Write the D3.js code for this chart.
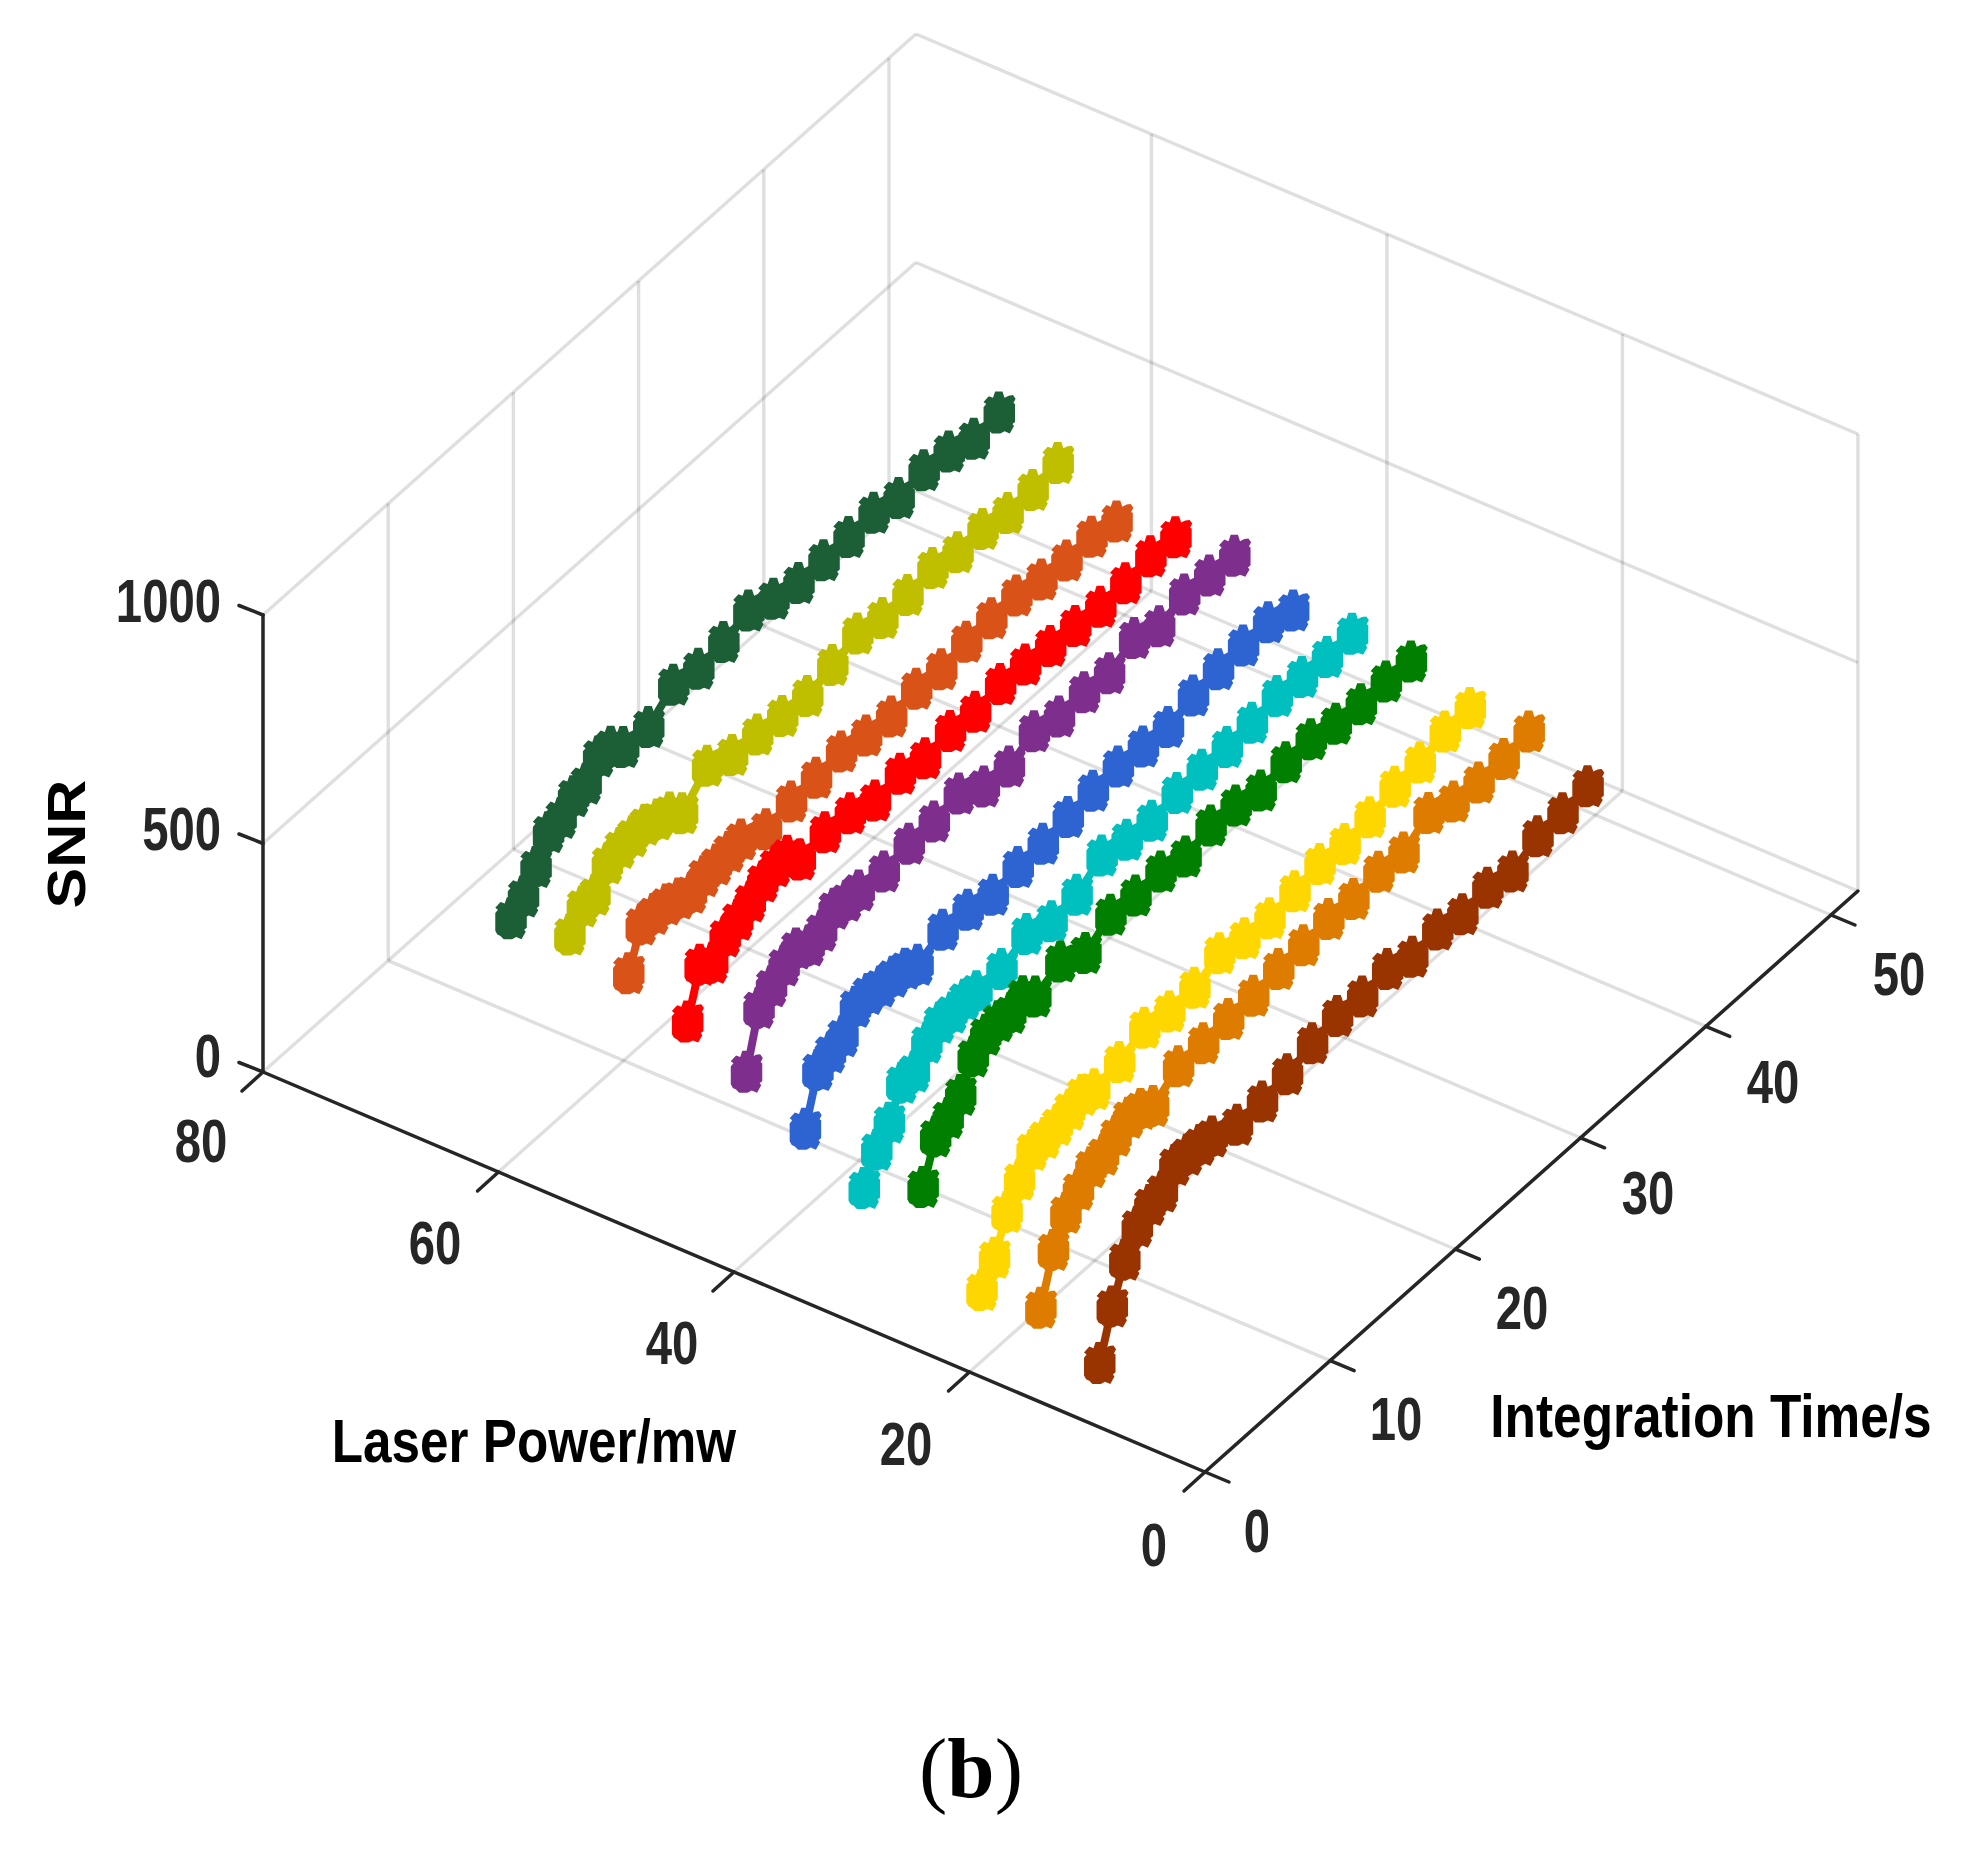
<!DOCTYPE html>
<html><head><meta charset="utf-8">
<script src="https://cdn.jsdelivr.net/npm/d3@7"></script>
<style>html,body{margin:0;padding:0;background:#fff}svg{display:block}</style>
</head><body><svg id="c" width="1973" height="1851"></svg>
<script>
const integrationTime=[1,2,3,4,5,6,7,8,9,10,12,14,16,18,20,22,24,26,28,30,32,34,36,38,40];
const laserPower=[60,55,50,45,40,35,30,25,20,15,10];
const seriesColors=["#1C5E36","#BFBF00","#D95319","#FF0000","#7E2F8E","#2E64D2","#00BFBF","#007F00","#FFD700","#DE7C00","#993300"];
const snrP60=[531,554,594,646,653,676,679,714,711,686,681,725,711,721,741,718,704,705,707,711,695,707,699,678,687];
const snrP55=[550,587,588,632,642,643,644,631,622,596,651,626,622,614,609,628,648,633,635,645,631,633,619,621,631];
const snrP50=[520,602,601,597,586,574,586,587,591,593,567,579,582,591,577,570,582,576,587,590,591,577,570,573,558];
const snrP45=[469,569,549,582,594,610,629,638,637,604,615,608,587,597,582,593,586,598,592,584,579,572,575,585,578];
const snrP40=[414,529,552,573,586,568,576,600,593,591,584,596,596,608,575,570,598,582,586,579,607,584,605,598,592];
const snrP35=[344,448,462,473,513,517,509,506,499,483,511,506,490,502,504,514,523,527,522,516,536,545,548,550,527];
const snrP30=[269,328,363,426,426,465,484,482,486,480,480,508,487,496,533,519,512,524,526,527,531,541,534,529,531];
const snrP25=[326,412,428,454,514,537,542,536,548,523,551,521,556,549,553,537,556,551,535,548,550,535,529,530,525];
const snrP20=[155,201,277,323,364,366,370,379,387,375,386,412,399,402,429,413,408,418,429,424,434,452,456,475,478];
const snrP15=[171,273,330,356,381,384,401,416,411,393,431,433,437,439,449,452,461,456,467,460,498,474,467,470,481];
const snrP10=[105,204,282,330,353,358,392,390,387,381,358,360,371,390,401,395,406,384,395,380,389,376,404,406,416];
const seriesSNR=[snrP60,snrP55,snrP50,snrP45,snrP40,snrP35,snrP30,snrP25,snrP20,snrP15,snrP10];
const timeTicks=[0,10,20,30,40,50];
const powerTicks=[0,20,40,60,80];
const snrTicks=[0,500,1000];
const timeLimit=52.15;

const tx=d3.scaleLinear([0,50],[0,626]), ty=d3.scaleLinear([0,50],[0,-557]);
const px=d3.scaleLinear([0,80],[1205,263]), py=d3.scaleLinear([0,80],[1472,1072]);
const zy=d3.scaleLinear([0,1000],[0,-457]);
const P=(t,p,z)=>[px(p)+tx(t),py(p)+ty(t)+zy(z)];
const svg=d3.select("#c");
const GRID="#262626",AX="#262626";
function seg(g,a,b){g.append("line").attr("x1",a[0]).attr("y1",a[1]).attr("x2",b[0]).attr("y2",b[1]);}
const grid=svg.append("g").attr("stroke",GRID).attr("stroke-opacity",.15).attr("stroke-width",3.4);
snrTicks.forEach(z=>{ seg(grid,P(0,80,z),P(timeLimit,80,z)); seg(grid,P(timeLimit,80,z),P(timeLimit,0,z)); });
timeTicks.filter(t=>t>0).forEach(t=>{ seg(grid,P(t,80,0),P(t,80,1000)); seg(grid,P(t,0,0),P(t,80,0)); });
powerTicks.filter(p=>p<80).forEach(p=>{ seg(grid,P(timeLimit,p,0),P(timeLimit,p,1000)); seg(grid,P(0,p,0),P(timeLimit,p,0)); });

const ax=svg.append("g").attr("stroke",AX).attr("stroke-width",3.5).attr("stroke-linecap","round");
seg(ax,P(0,80,0),P(0,80,1000)); seg(ax,P(0,80,0),P(0,0,0)); seg(ax,P(0,0,0),P(timeLimit,0,0));
snrTicks.forEach(z=>{const a=P(0,80,z);seg(ax,a,[a[0]-24,a[1]-9.5]);});
powerTicks.forEach(p=>{const a=P(0,p,0);seg(ax,a,[a[0]-21,a[1]+19]);});
timeTicks.forEach(t=>{const a=P(t,0,0);seg(ax,a,[a[0]+24,a[1]+10]);});

const outline=[[-4,-20],[3,-20],[5,-14],[9,-16],[13,-16.5],[15.5,-13],[13.5,-9],[15,-8],[15,9],[12.5,11],[14,13],[10,20],[5,18],[1,20],[-7,20],[-10,17],[-13,15.5],[-15,12],[-15,-5],[-12.5,-8],[-15,-10],[-10,-15.5],[-6,-14]];
const star={draw(c){outline.forEach((q,i)=>i?c.lineTo(q[0],q[1]):c.moveTo(q[0],q[1]));c.closePath();}};
const sym=d3.symbol().type(star);
const line=d3.line();
const plot=svg.append("g");
seriesSNR.forEach((vals,i)=>{
  const pts=integrationTime.map((t,j)=>P(t,laserPower[i],vals[j]));
  const g=plot.append("g");
  g.append("path").attr("d",line(pts)).attr("fill","none").attr("stroke",seriesColors[i]).attr("stroke-width",8);
  g.selectAll("path.m").data(pts).join("path").attr("class","m").attr("d",sym())
   .attr("fill",seriesColors[i]).attr("transform",d=>`translate(${d[0]},${d[1]}) scale(1.05)`);
});

function label(x,y,s,size,sx,opts={}){
  return svg.append("text").attr("transform",`translate(${x},${y}) scale(${sx},1)`)
   .attr("text-anchor",opts.anchor||"middle").attr("dominant-baseline","central")
   .attr("font-family","'Liberation Sans',Arial,sans-serif").attr("font-weight","bold")
   .attr("font-size",size).attr("fill",opts.fill||"#262626").text(s);
}
const snrLabelPos=[[221,1056],[221,829],[221,601]];
snrTicks.forEach((v,i)=>label(snrLabelPos[i][0],snrLabelPos[i][1],v,61,.775,{anchor:"end"}));
const powerLabelPos=[[1154,1545],[906,1444],[672,1343],[435,1243],[201,1141]];
powerTicks.forEach((v,i)=>label(powerLabelPos[i][0],powerLabelPos[i][1],v,61,.775));
const timeLabelPos=[[1257,1531],[1396,1419],[1522,1308],[1648,1193],[1773,1082],[1899,974]];
timeTicks.forEach((v,i)=>label(timeLabelPos[i][0],timeLabelPos[i][1],v,61,.775));
label(534,1441,"Laser Power/mw",61,.84,{fill:"#000"});
label(1711,1416,"Integration Time/s",61,.842,{fill:"#000"});
svg.append("text").attr("transform","translate(66,844) rotate(-90) scale(1.13,1)").attr("text-anchor","middle").attr("dominant-baseline","central")
 .attr("font-family","'Liberation Sans',Arial,sans-serif").attr("font-weight","bold").attr("font-size",54).attr("fill","#000").text("SNR");
const cap=svg.append("text").attr("x",971).attr("y",1768).attr("text-anchor","middle").attr("dominant-baseline","central")
 .attr("font-family","'Liberation Serif',serif").attr("font-size",85).attr("fill","#000");
cap.append("tspan").text("(");
cap.append("tspan").attr("font-weight","bold").text("b");
cap.append("tspan").text(")");
</script></body></html>
